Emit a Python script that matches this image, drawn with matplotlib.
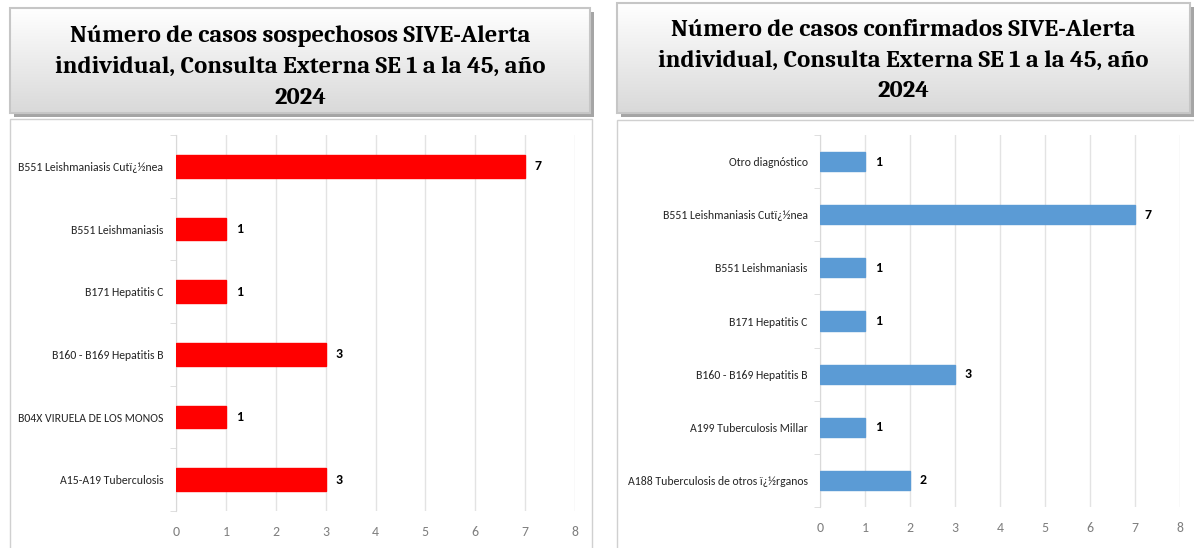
import matplotlib
matplotlib.use("Agg")
import matplotlib.pyplot as plt
import numpy as np
from matplotlib.patches import Rectangle

# Data (top to bottom as shown)
sosp_labels = [
    "B551 Leishmaniasis Cutï¿½nea",
    "B551 Leishmaniasis",
    "B171 Hepatitis C",
    "B160 - B169 Hepatitis B",
    "B04X VIRUELA DE LOS MONOS",
    "A15-A19 Tuberculosis",
]
sosp_values = [7, 1, 1, 3, 1, 3]

conf_labels = [
    "Otro diagnóstico",
    "B551 Leishmaniasis Cutï¿½nea",
    "B551 Leishmaniasis",
    "B171 Hepatitis C",
    "B160 - B169 Hepatitis B",
    "A199 Tuberculosis Millar",
    "A188 Tuberculosis de otros ï¿½rganos",
]
conf_values = [1, 7, 1, 1, 3, 1, 2]

x_ticks = [0, 1, 2, 3, 4, 5, 6, 7, 8]

title_left = "Número de casos sospechosos SIVE-Alerta\nindividual, Consulta Externa SE 1 a la 45, año\n2024"
title_right = "Número de casos confirmados SIVE-Alerta\nindividual, Consulta Externa SE 1 a la 45, año\n2024"

W, H = 1194, 548
SANS = ["Carlito", "DejaVu Sans"]
SERIF = ["Caladea", "Liberation Serif", "DejaVu Serif"]

fig = plt.figure(figsize=(W / 100, H / 100), dpi=100)
fig.patch.set_facecolor("white")


def px_axes(x0, y0, x1, y1, **kw):
    # pixel box (top-left origin) -> figure axes
    return fig.add_axes([x0 / W, 1 - y1 / H, (x1 - x0) / W, (y1 - y0) / H], **kw)


# background layer for title boxes and chart frames
bg = px_axes(0, 0, W, H)
bg.axis("off")

grad = np.linspace(0, 1, 100).reshape(-1, 1)
gcmap = matplotlib.colors.LinearSegmentedColormap.from_list("g", ["#ffffff", "#d9d9d9"])


def title_box(x0, y0, x1, y1, text, ty):
    bg.add_patch(Rectangle((x0 + 4, y0 + 4), x1 - x0, y1 - y0, facecolor="#a5a5a5", edgecolor="none", zorder=1))
    bg.imshow(grad, cmap=gcmap, extent=(x0, x1, y1, y0), aspect="auto", zorder=2)
    bg.add_patch(Rectangle((x0, y0), x1 - x0, y1 - y0, facecolor="none", edgecolor="#c6c6c6", lw=1.5, zorder=3))
    bg.text((x0 + x1) / 2, ty, text, ha="center", va="center", fontsize=17.7, fontweight="bold",
            family=SERIF, linespacing=1.52, zorder=4)


bg.add_patch(Rectangle((10, 119), 582, 440, facecolor="white", edgecolor="#d0d0d0", lw=1, zorder=0.5))
bg.add_patch(Rectangle((617, 120), 600, 440, facecolor="white", edgecolor="#d0d0d0", lw=1, zorder=0.5))
title_box(10, 8, 590, 113, title_left, 67)
title_box(617, 3, 1190, 113, title_right, 61)
bg.set_xlim(0, W)
bg.set_ylim(H, 0)


def bar_panel(ax, labels, values, color):
    y = np.arange(len(labels))
    ax.barh(y, values, height=0.36, color=color, edgecolor=color, zorder=3)
    ax.set_ylim(len(labels) - 0.5, -0.5)
    ax.set_xlim(0, 8)
    ax.set_xticks(x_ticks)
    ax.set_yticks(y)
    ax.set_yticklabels(labels, family=SANS, fontsize=8.5, color="#262626")
    ax.set_xticklabels([str(t) for t in x_ticks], family=SANS, fontsize=10, color="#7f7f7f")
    ax.tick_params(axis="x", length=0, pad=11)
    ax.tick_params(axis="y", length=0, pad=9)
    ax.set_yticks(np.arange(len(labels) + 1) - 0.5, minor=True)
    ax.tick_params(axis="y", which="minor", length=4, color="#d9d9d9")
    ax.grid(axis="x", color="#e3e3e3", lw=1, zorder=0)
    for s in ["top", "right", "bottom"]:
        ax.spines[s].set_visible(False)
    ax.spines["left"].set_color("#d9d9d9")
    ax.set_facecolor("none")
    for yi, v in zip(y, values):
        ax.annotate(str(v), (v, yi), xytext=(7, 0), textcoords="offset points", ha="left", va="center",
                    fontsize=10, fontweight="bold", family=SANS, color="black")


ax1 = px_axes(176, 135, 575, 511)
bar_panel(ax1, sosp_labels, sosp_values, "#ff0000")

ax2 = px_axes(820, 135, 1180, 507)
bar_panel(ax2, conf_labels, conf_values, "#5b9bd5")

fig.savefig("out.png", dpi=100, facecolor="white")
